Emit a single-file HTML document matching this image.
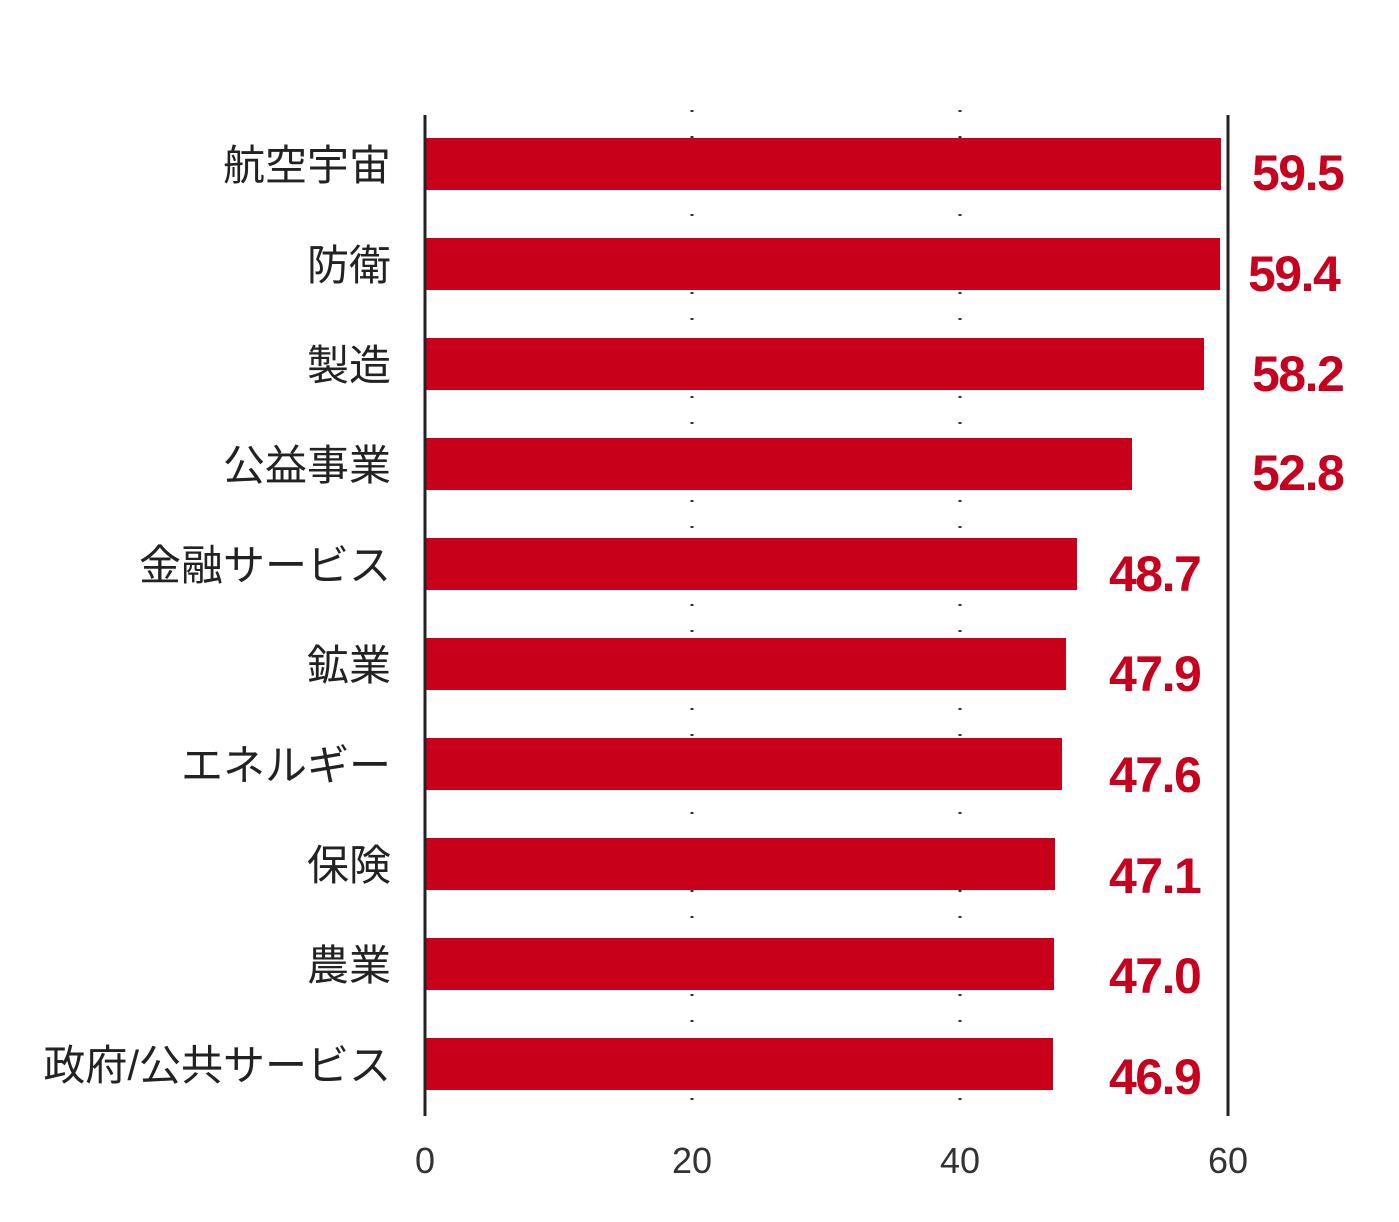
<!DOCTYPE html>
<html><head><meta charset="utf-8"><style>
html,body{margin:0;padding:0;background:#fff;}
svg{display:block}
.c{font-family:"Liberation Sans","Noto Sans CJK JP",sans-serif;font-size:42px;fill:#222;}
.v{font-family:"Liberation Sans",sans-serif;font-weight:bold;font-size:50px;fill:#c8001e;letter-spacing:-1.5px;}
.t{font-family:"Liberation Sans",sans-serif;font-size:36px;fill:#333;}
</style></head><body>
<svg width="1399" height="1222" viewBox="0 0 1399 1222" xmlns="http://www.w3.org/2000/svg">
<g stroke="#333" stroke-width="3" stroke-dasharray="2,24">
<line x1="692" y1="110" x2="692" y2="1118"/>
<line x1="960" y1="110" x2="960" y2="1118"/>
</g>
<g fill="#c8001a">
<rect x="425" y="138" width="796" height="52"/>
<rect x="425" y="238" width="795" height="52"/>
<rect x="425" y="338" width="779" height="52"/>
<rect x="425" y="438" width="707" height="52"/>
<rect x="425" y="538" width="652" height="52"/>
<rect x="425" y="638" width="641" height="52"/>
<rect x="425" y="738" width="637" height="52"/>
<rect x="425" y="838" width="630" height="52"/>
<rect x="425" y="938" width="629" height="52"/>
<rect x="425" y="1038" width="628" height="52"/>
</g>
<line x1="425" y1="115" x2="425" y2="1116" stroke="#222" stroke-width="3"/>
<line x1="1228" y1="115" x2="1228" y2="1116" stroke="#222" stroke-width="3"/>
<g class="c" text-anchor="end">
<text x="391" y="180">航空宇宙</text>
<text x="391" y="280">防衛</text>
<text x="391" y="380">製造</text>
<text x="391" y="480">公益事業</text>
<text x="391" y="580">金融サービス</text>
<text x="391" y="680">鉱業</text>
<text x="391" y="780">エネルギー</text>
<text x="391" y="880">保険</text>
<text x="391" y="980">農業</text>
<text x="391" y="1080">政府/公共サービス</text>
</g>
<g class="v">
<text x="1252" y="190">59.5</text>
<text x="1248" y="291">59.4</text>
<text x="1252" y="391">58.2</text>
<text x="1252" y="490">52.8</text>
<text x="1109" y="591">48.7</text>
<text x="1109" y="691">47.9</text>
<text x="1109" y="792">47.6</text>
<text x="1109" y="893">47.1</text>
<text x="1109" y="993">47.0</text>
<text x="1109" y="1094">46.9</text>
</g>
<g class="t" text-anchor="middle">
<text x="425" y="1173">0</text>
<text x="692" y="1173">20</text>
<text x="960" y="1173">40</text>
<text x="1228" y="1173">60</text>
</g>
</svg>
</body></html>
